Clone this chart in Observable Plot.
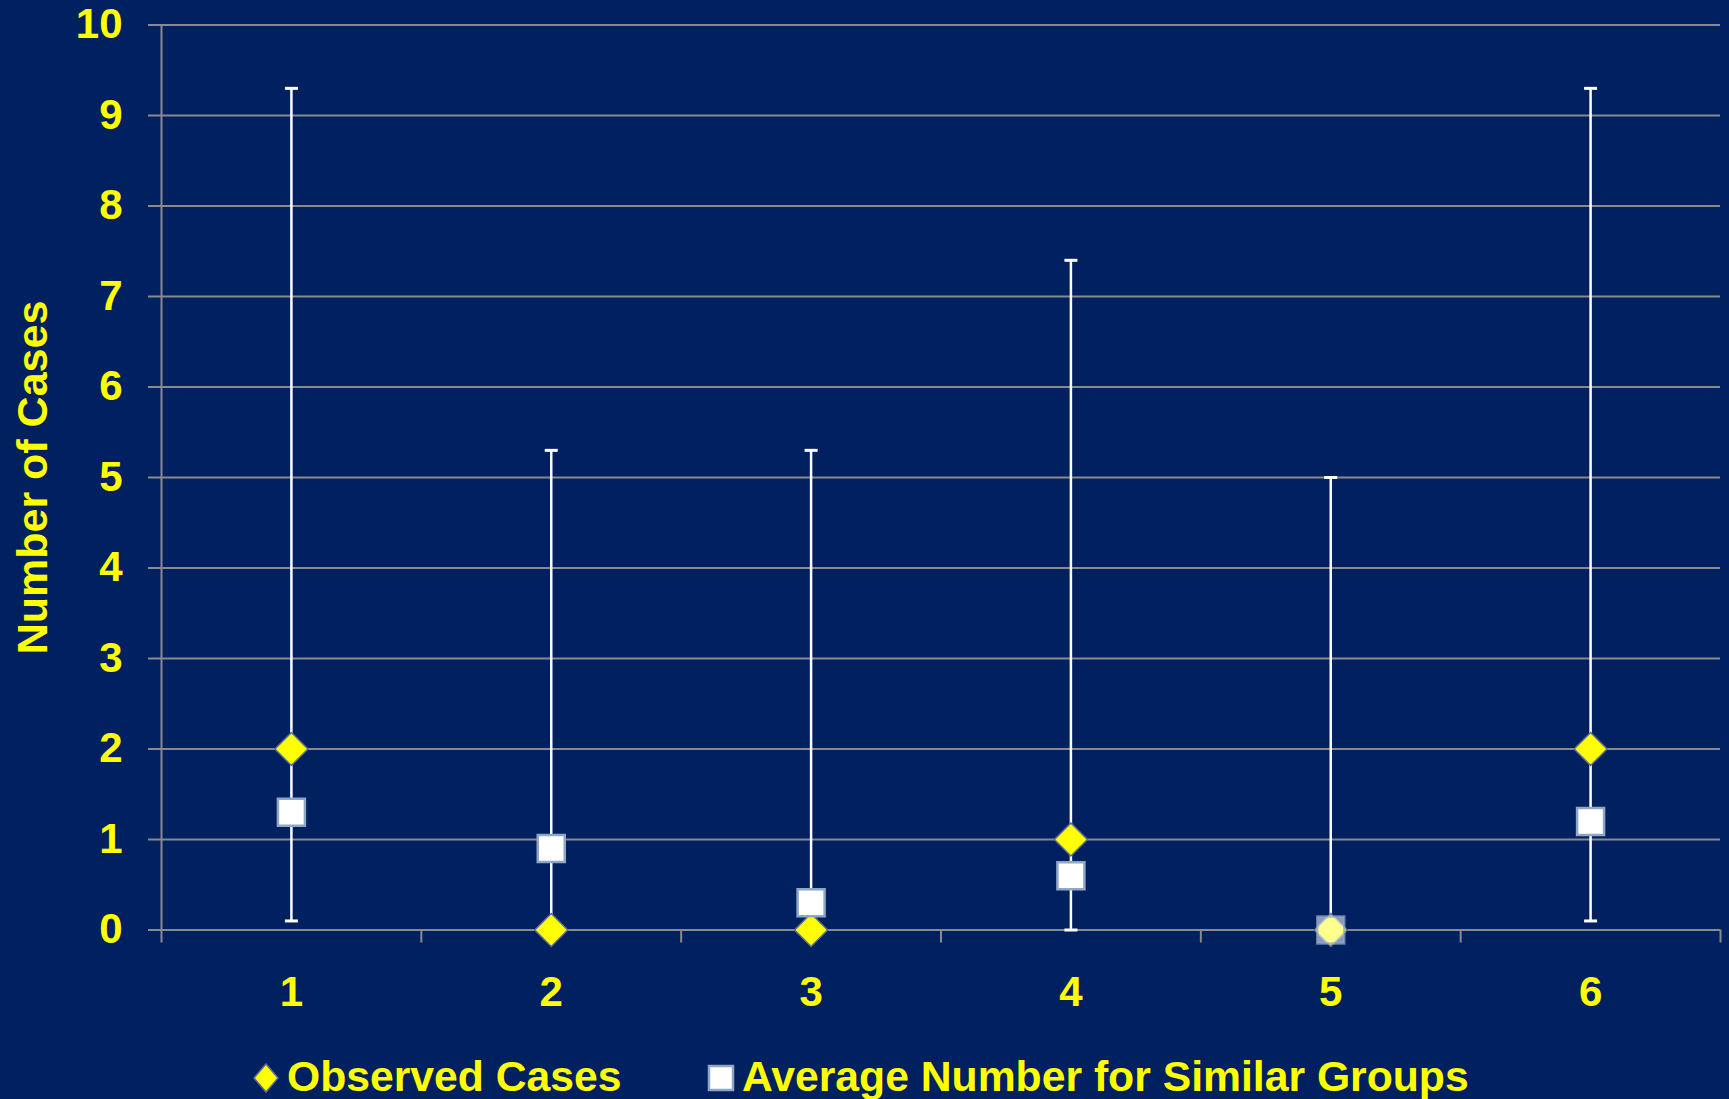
<!DOCTYPE html>
<html><head><meta charset="utf-8">
<script src="https://cdn.jsdelivr.net/npm/d3@7"></script>
<script src="https://cdn.jsdelivr.net/npm/@observablehq/plot@0.6"></script>
<style>
html,body{margin:0;padding:0;background:#002060;width:1729px;height:1099px;overflow:hidden;}
#chart{position:absolute;left:0;top:0;}
.leg{position:absolute;font-family:"Liberation Sans",Arial,sans-serif;font-weight:bold;font-size:42.7px;line-height:1;color:#ffff00;white-space:nowrap;}
</style></head><body>
<div id="chart"></div>
<div id="legend"></div>
<script>
const categories = [1, 2, 3, 4, 5, 6];
const observed = [2, 0, 0, 1, 0, 2];
const average = [1.3, 0.9, 0.3, 0.6, 0, 1.2];
const lower = [0.1, 0, 0, 0, 0, 0.1];
const upper = [9.3, 5.3, 5.3, 7.4, 5.0, 9.3];
const yTicks = [0, 1, 2, 3, 4, 5, 6, 7, 8, 9, 10];
const seriesNames = ["Observed Cases", "Average Number for Similar Groups"];
const yTitle = "Number of Cases";

const YELLOW = "#ffff00", NAVY = "#002060", GRID = "#8a8a8a";
const FONT = "'Liberation Sans', Arial, sans-serif";
const fmt = d => String(d);

const data = categories.map((c, i) => ({cat: c, obs: observed[i], avg: average[i], lo: lower[i], hi: upper[i]}));
const boundaries = [...categories.map(c => c - 0.5), categories[categories.length - 1] + 0.5];

const diamond = {draw(ctx) { const h = 16.5; ctx.moveTo(0, -h); ctx.lineTo(h, 0); ctx.lineTo(0, h); ctx.lineTo(-h, 0); ctx.closePath(); }};
const square = {draw(ctx) { const h = 13.5; ctx.moveTo(-h, -h); ctx.lineTo(h, -h); ctx.lineTo(h, h); ctx.lineTo(-h, h); ctx.closePath(); }};
const cap = {draw(ctx) { const w = 6.5; ctx.moveTo(-w, 0); ctx.lineTo(w, 0); }};

const chart = Plot.plot({
  width: 1729, height: 1040,
  marginLeft: 161, marginRight: 9, marginTop: 24.5, marginBottom: 110.5,
  style: {background: NAVY, color: YELLOW, fontFamily: FONT, fontWeight: "bold", overflow: "visible"},
  x: {type: "linear", domain: [boundaries[0], boundaries[boundaries.length - 1]]},
  y: {domain: [yTicks[0], yTicks[yTicks.length - 1]]},
  marks: [
    Plot.gridY(yTicks, {stroke: GRID, strokeOpacity: 1, strokeWidth: 2}),
    Plot.ruleX([boundaries[0]], {stroke: GRID, strokeWidth: 2}),
    Plot.axisY(yTicks, {tickSize: 13, tickPadding: 26, tickFormat: fmt, stroke: GRID, strokeWidth: 2, fill: YELLOW, fontSize: 42, fontWeight: "bold", label: null}),
    Plot.axisX(boundaries, {tickSize: 13, tickFormat: () => "", stroke: GRID, strokeWidth: 2, label: null}),
    Plot.axisX(categories, {tickSize: 0, tickPadding: 46, tickFormat: fmt, fill: YELLOW, fontSize: 42, fontWeight: "bold", label: null}),
    Plot.ruleX(data, {x: "cat", y1: "lo", y2: "hi", stroke: "white", strokeWidth: 2.5}),
    Plot.dot(data, {x: "cat", y: "hi", symbol: cap, stroke: "white", strokeWidth: 3, fill: "none"}),
    Plot.dot(data, {x: "cat", y: "lo", symbol: cap, stroke: "white", strokeWidth: 3, fill: "none"}),
    Plot.dot(data, {x: "cat", y: "obs", symbol: diamond, fill: YELLOW, stroke: "#5b6e99", strokeWidth: 1.5}),
    Plot.dot(data, {x: "cat", y: "avg", symbol: square, fill: "white", stroke: "#8fa6c6", strokeWidth: 2.5,
      fillOpacity: d => d.avg === d.obs ? 0.55 : 1, strokeOpacity: d => d.avg === d.obs ? 0.7 : 1}),
    Plot.text([yTitle], {text: d => d, frameAnchor: "left", textAnchor: "middle", rotate: -90, dx: -128.5, fontSize: 43, fontWeight: "bold", fill: YELLOW, lineAnchor: "middle"})
  ]
});
document.getElementById("chart").appendChild(chart);

// Legend
const legend = document.getElementById("legend");
function sym(kind, cx, cy) {
  const s = document.createElementNS("http://www.w3.org/2000/svg", "svg");
  s.setAttribute("width", 32); s.setAttribute("height", 32);
  s.style.position = "absolute"; s.style.left = (cx - 16) + "px"; s.style.top = (cy - 16) + "px";
  s.innerHTML = kind === "diamond"
    ? `<path d="M16,2L28,16L16,30L4,16Z" fill="${YELLOW}" stroke="#5b6e99" stroke-width="1.5"/>`
    : `<rect x="4" y="4" width="24" height="24" fill="white" stroke="#8fa6c6" stroke-width="2.5"/>`;
  legend.appendChild(s);
}
function label(text, left) {
  const d = document.createElement("div");
  d.className = "leg"; d.textContent = text; d.style.left = left + "px"; d.style.top = "1055px";
  legend.appendChild(d);
}
sym("diamond", 266, 1078);
label(seriesNames[0], 287);
sym("square", 721, 1078);
label(seriesNames[1], 742);
</script>
</body></html>
